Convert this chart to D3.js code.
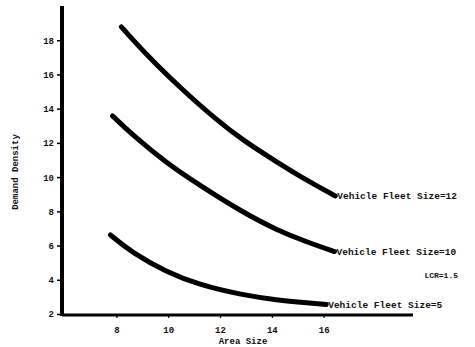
<!DOCTYPE html>
<html>
<head>
<meta charset="utf-8">
<script src="https://cdn.jsdelivr.net/npm/d3@7"></script>
<style>
  html, body { margin: 0; padding: 0; background: #fff; }
  svg { display: block; }
  text { font-family: "Liberation Mono", "DejaVu Sans Mono", monospace; font-weight: bold; fill: #111; }
</style>
</head>
<body>
<svg id="chart" width="475" height="347"></svg>
<script>
// ---- Data ----
const xTicks = [8, 10, 12, 14, 16];
const yTicks = [2, 4, 6, 8, 10, 12, 14, 16, 18];

const areaSize12 = [8.19, 9.27, 10.55, 11.86, 12.86, 14.18, 15.45, 16.45];
const density12  = [18.78, 16.97, 15.10, 13.35, 12.18, 10.89, 9.72, 8.90];

const areaSize10 = [7.85, 8.62, 9.93, 11.2, 12.86, 14.18, 15.45, 16.42];
const density10  = [13.58, 12.47, 10.83, 9.54, 7.96, 6.91, 6.15, 5.65];

const areaSize5  = [7.77, 8.62, 9.93, 11.2, 12.86, 14.18, 15.45, 16.1];
const density5   = [6.62, 5.57, 4.46, 3.70, 3.11, 2.82, 2.64, 2.55];

const seriesLabels = ["Vehicle Fleet Size=12", "Vehicle Fleet Size=10", "Vehicle Fleet Size=5"];
const noteLabel = "LCR=1.5";
const xTitle = "Area Size";
const yTitle = "Demand Density";

// ---- Scales ----
const svg = d3.select("#chart");
const x = d3.scaleLinear().domain([5.9, 19.45]).range([62, 413]);
const y = d3.scaleLinear().domain([2, 20]).range([314, 6]);

// ---- Axes ----
const yAxis = d3.axisLeft(y).tickValues(yTicks).tickSize(5).tickSizeOuter(0).tickPadding(3);
const gy = svg.append("g").attr("transform", "translate(62,0)").call(yAxis);
gy.select(".domain").attr("stroke", "#000").attr("stroke-width", 4).attr("d", `M0,${y(2) + 2}V${y(20)}`);
gy.selectAll(".tick line").attr("stroke", "#000").attr("stroke-width", 1.5);
gy.selectAll(".tick text").style("font-size", "9px").style("font-family", "Liberation Mono, monospace").style("font-weight", "bold").attr("fill", "#111");

const xAxis = d3.axisBottom(x).tickValues(xTicks).tickSize(3).tickSizeOuter(0).tickPadding(9);
const gx = svg.append("g").attr("transform", `translate(0,${y(2) + 1})`).call(xAxis);
gx.select(".domain").attr("stroke", "#000").attr("stroke-width", 3).attr("d", `M${x.range()[0]},0H${x.range()[1]}`);
gx.selectAll(".tick line").attr("stroke", "#000").attr("stroke-width", 1.2);
gx.selectAll(".tick text").style("font-size", "9px").style("font-family", "Liberation Mono, monospace").style("font-weight", "bold").attr("fill", "#111");

// ---- Titles ----
svg.append("text").attr("x", 243).attr("y", 344).attr("text-anchor", "middle")
  .style("font-size", "9px").text(xTitle);
svg.append("text").attr("transform", "translate(18,172) rotate(-90)").attr("text-anchor", "middle")
  .style("font-size", "9px").text(yTitle);

// ---- Curves ----
const series = [
  { xs: areaSize12, ys: density12, label: seriesLabels[0] },
  { xs: areaSize10, ys: density10, label: seriesLabels[1] },
  { xs: areaSize5,  ys: density5,  label: seriesLabels[2] }
];
const line = d3.line().x(d => x(d[0])).y(d => y(d[1])).curve(d3.curveBasis);

series.forEach(s => {
  const pts = s.xs.map((v, i) => [v, s.ys[i]]);
  svg.append("path").datum(pts).attr("d", line)
    .attr("fill", "none").attr("stroke", "#000").attr("stroke-width", 5)
    .attr("stroke-linecap", "round").attr("stroke-linejoin", "round");
  const last = pts[pts.length - 1];
  svg.append("text").attr("x", x(last[0]) + 2).attr("y", y(last[1]) + 3)
    .style("font-size", "9.5px").text(s.label);
});

svg.append("text").attr("x", 458).attr("y", 278).attr("text-anchor", "end")
  .style("font-size", "8px").text(noteLabel);
</script>
</body>
</html>
